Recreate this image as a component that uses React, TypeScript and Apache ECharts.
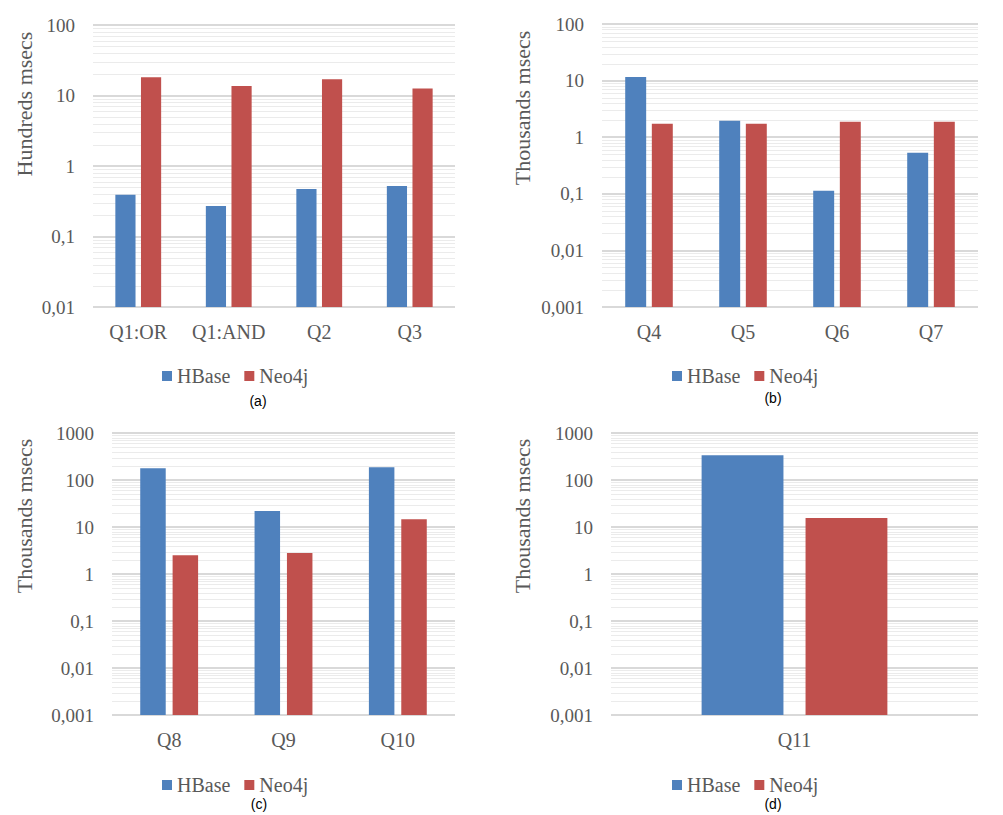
import React, { useEffect, useRef } from "react";
import * as echarts from "echarts";

const seriesNames = ["HBase", "Neo4j"];

const categoriesA = ["Q1:OR", "Q1:AND", "Q2", "Q3"];
const hbaseA = [0.39, 0.27, 0.47, 0.52];
const neo4jA = [18.1, 13.6, 17, 12.6];

const categoriesB = ["Q4", "Q5", "Q6", "Q7"];
const hbaseB = [11.6, 1.96, 0.113, 0.53];
const neo4jB = [1.73, 1.73, 1.88, 1.88];

const categoriesC = ["Q8", "Q9", "Q10"];
const hbaseC = [178, 21.8, 187];
const neo4jC = [2.5, 2.8, 14.7];

const categoriesD = ["Q11"];
const hbaseD = [336];
const neo4jD = [15.5];

const axisTitles = ["Hundreds msecs", "Thousands msecs", "Thousands msecs", "Thousands msecs"];
const panelLabels = ["(a)", "(b)", "(c)", "(d)"];
const yMins = [0.01, 0.001, 0.001, 0.001];
const yMaxs = [100, 100, 1000, 1000];

const BLUE = "#4f81bd";
const RED = "#c0504d";
const SERIF = "Liberation Serif";
const GREY_TEXT = "#595959";

// layout (pixels)
const grids = [
  { left: 93, top: 25, width: 362, height: 282 },
  { left: 602, top: 24, width: 376, height: 283 },
  { left: 112, top: 433, width: 343, height: 282 },
  { left: 611, top: 433, width: 367, height: 282 },
];
const legendPos = [
  { left: 157, top: 361 },
  { left: 667, top: 361 },
  { left: 157, top: 770 },
  { left: 667, top: 770 },
];
const titlePos = [
  { x: 24, y: 104 },
  { x: 522, y: 108 },
  { x: 24, y: 516 },
  { x: 522, y: 516 },
];
const subLabelPos = [
  { x: 258, y: 401 },
  { x: 773, y: 398 },
  { x: 259, y: 804 },
  { x: 773, y: 804 },
];

function minorValues(min: number, max: number): number[] {
  const out: number[] = [];
  const e0 = Math.round(Math.log10(min));
  const e1 = Math.round(Math.log10(max));
  for (let e = e0; e < e1; e++) {
    for (let d = 2; d <= 9; d++) {
      out.push(Number((d * Math.pow(10, e)).toPrecision(6)));
    }
  }
  return out;
}

function fmt(v: number): string {
  return String(Number(v.toPrecision(6))).replace(".", ",");
}

export default function App() {
  const ref = useRef<HTMLDivElement>(null);

  useEffect(() => {
    if (!ref.current) return;
    const chart = echarts.init(ref.current, undefined, { renderer: "svg" });

    const cats = [categoriesA, categoriesB, categoriesC, categoriesD];
    const hb = [hbaseA, hbaseB, hbaseC, hbaseD];
    const nj = [neo4jA, neo4jB, neo4jC, neo4jD];

    const series: any[] = [];
    for (let i = 0; i < 4; i++) {
      series.push({
        type: "custom",
        name: "minor" + i,
        xAxisIndex: i,
        yAxisIndex: i,
        silent: true,
        z: 1,
        data: minorValues(yMins[i], yMaxs[i]).map((v) => [0, v]),
        encode: { x: 0, y: 1 },
        renderItem: (params: any, api: any) => {
          const cs = params.coordSys;
          const y = Math.round(api.coord([0, api.value(1)])[1]) + 0.5;
          return {
            type: "line",
            silent: true,
            shape: { x1: cs.x, y1: y, x2: cs.x + cs.width, y2: y },
            style: { stroke: "#ebebeb", lineWidth: 1 },
          };
        },
      });
      series.push({
        type: "bar",
        name: seriesNames[0],
        xAxisIndex: i,
        yAxisIndex: i,
        data: hb[i],
        itemStyle: { color: BLUE },
        barWidth: "22.3%",
        barGap: "27%",
        z: 3,
      });
      series.push({
        type: "bar",
        name: seriesNames[1],
        xAxisIndex: i,
        yAxisIndex: i,
        data: nj[i],
        itemStyle: { color: RED },
        barWidth: "22.3%",
        barGap: "27%",
        z: 3,
      });
    }

    const graphic: any[] = [];
    for (let i = 0; i < 4; i++) {
      graphic.push({
        type: "text",
        x: titlePos[i].x,
        y: titlePos[i].y,
        rotation: Math.PI / 2,
        style: {
          text: axisTitles[i],
          font: "22px Liberation Serif",
          fill: GREY_TEXT,
          textAlign: "center",
          textVerticalAlign: "middle",
        },
      });
      graphic.push({
        type: "text",
        x: subLabelPos[i].x,
        y: subLabelPos[i].y,
        style: {
          text: panelLabels[i],
          font: "14px Liberation Sans",
          fill: "#000000",
          textAlign: "center",
          textVerticalAlign: "middle",
        },
      });
    }

    chart.setOption({
      animation: false,
      backgroundColor: "#ffffff",
      textStyle: { fontFamily: SERIF },
      grid: grids.map((g) => ({ ...g, containLabel: false })),
      xAxis: cats.map((c, i) => ({
        type: "category",
        gridIndex: i,
        data: c,
        axisLine: { show: false },
        axisTick: { show: false },
        axisLabel: { interval: 0, fontFamily: SERIF, fontSize: 20, color: GREY_TEXT, margin: 15 },
        splitLine: { show: false },
      })),
      yAxis: cats.map((_, i) => ({
        type: "log",
        gridIndex: i,
        logBase: 10,
        min: yMins[i],
        max: yMaxs[i],
        startValue: yMins[i],
        axisLine: { show: false },
        axisTick: { show: false },
        axisLabel: {
          fontFamily: SERIF,
          fontSize: 19,
          color: GREY_TEXT,
          margin: 18,
          formatter: (v: number) => fmt(v),
        },
        splitLine: { show: true, lineStyle: { color: "#d9d9d9", width: 2 } },
      })),
      legend: legendPos.map((p) => ({
        left: p.left,
        top: p.top,
        data: seriesNames,
        icon: "rect",
        itemWidth: 10,
        itemHeight: 10,
        itemGap: 14,
        textStyle: { fontFamily: SERIF, fontSize: 20, color: GREY_TEXT },
        selectedMode: false,
      })),
      series,
      graphic,
    });

    return () => {
      chart.dispose();
    };
  }, []);

  return (
    <div
      ref={ref}
      style={{ position: "fixed", left: 0, top: 0, width: 1003, height: 815 }}
    />
  );
}
